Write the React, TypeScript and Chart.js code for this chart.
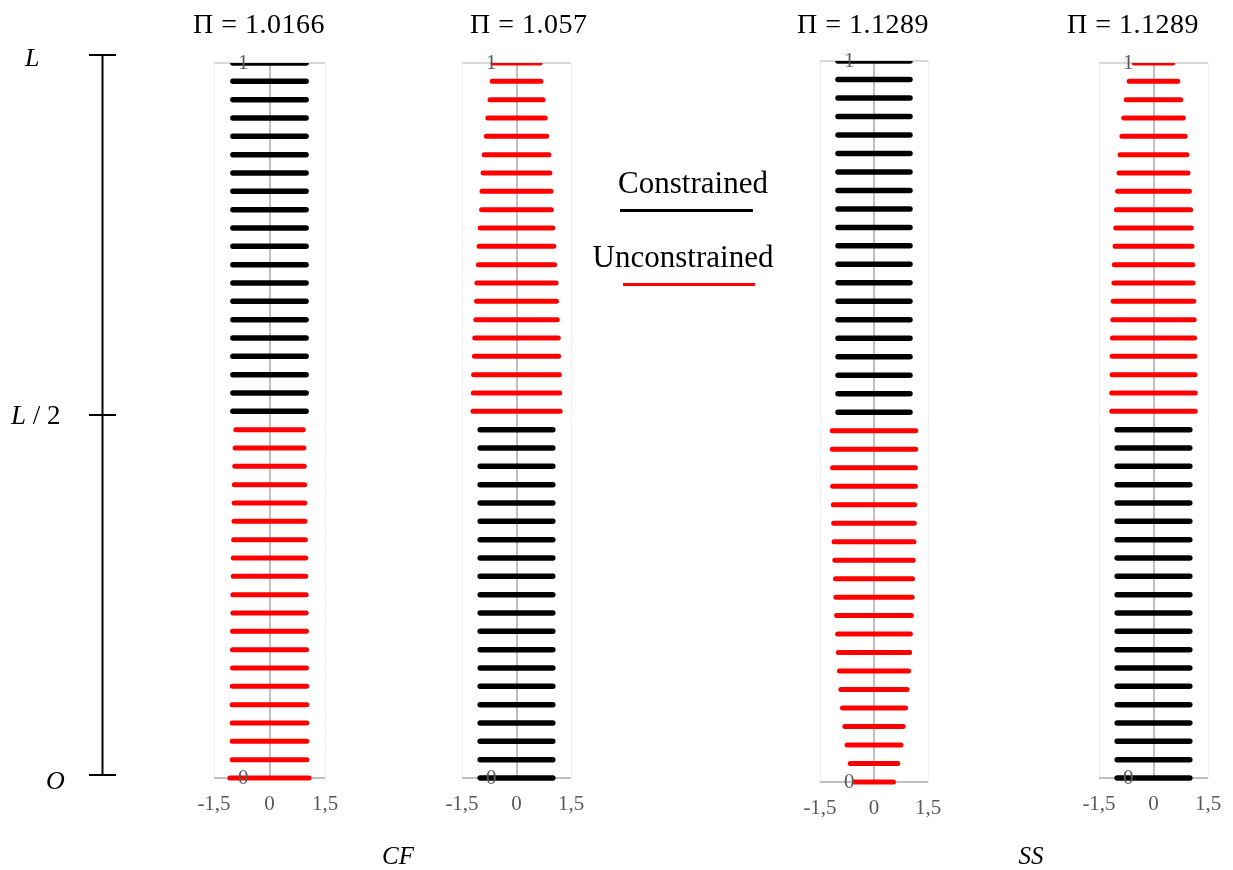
import React, { useEffect, useRef } from "react";
import { Chart, registerables } from "chart.js";

Chart.register(...registerables);

// Stations along the member, from the origin O (0) to the end L (1).
const SEGMENTS = 39;
const STATIONS = Array.from({ length: SEGMENTS + 1 }, (_, i) => i / SEGMENTS);

const X_TICKS = [-1.5, 0, 1.5];
const Y_TICKS = [0, 1];

const TITLES = ["Π = 1.0166", "Π = 1.057", "Π = 1.1289", "Π = 1.1289"];
const GROUP_LABELS = ["CF", "SS"];
const SERIES_LABELS = ["Constrained", "Unconstrained"];

// Half-widths of each band. Lower halves run from station 0 up to 19,
// upper halves from station 20 up to 39.
const cf1Constrained = [
  0.99, 0.99, 0.99, 0.99, 0.99, 0.99, 0.99, 0.99, 0.99, 0.99,
  0.99, 0.99, 0.99, 0.99, 0.99, 0.99, 0.99, 0.99, 0.99, 0.99,
];
const cf1Unconstrained = [
  1.07, 1.01, 1.01, 1.01, 1.01, 1.005, 1.0, 1.0, 1.0, 0.99,
  0.99, 0.98, 0.98, 0.97, 0.96, 0.955, 0.95, 0.94, 0.93, 0.91,
];

const cf2Constrained = [
  1.0, 1.0, 1.0, 1.0, 1.0, 1.0, 1.0, 1.0, 1.0, 1.0,
  1.0, 1.0, 1.0, 1.0, 1.0, 1.0, 1.0, 1.0, 1.0, 1.0,
];
const cf2Unconstrained = [
  1.2, 1.19, 1.18, 1.16, 1.15, 1.12, 1.1, 1.09, 1.05, 1.03,
  1.0, 0.96, 0.95, 0.92, 0.89, 0.83, 0.79, 0.73, 0.67, 0.65,
];

const ss1Constrained = [
  1.0, 1.0, 1.0, 1.0, 1.0, 1.0, 1.0, 1.0, 1.0, 1.0,
  1.0, 1.0, 1.0, 1.0, 1.0, 1.0, 1.0, 1.0, 1.0, 1.0,
];
const ss1Unconstrained = [
  0.54, 0.66, 0.75, 0.81, 0.875, 0.92, 0.96, 0.99, 1.01, 1.04,
  1.06, 1.07, 1.09, 1.11, 1.12, 1.13, 1.15, 1.15, 1.16, 1.16,
];

const ss2Constrained = [
  1.0, 1.0, 1.0, 1.0, 1.0, 1.0, 1.0, 1.0, 1.0, 1.0,
  1.0, 1.0, 1.0, 1.0, 1.0, 1.0, 1.0, 1.0, 1.0, 1.0,
];
const ss2Unconstrained = [
  1.15, 1.15, 1.14, 1.14, 1.13, 1.12, 1.11, 1.09, 1.08, 1.06,
  1.04, 1.02, 0.99, 0.95, 0.92, 0.87, 0.82, 0.75, 0.67, 0.53,
];

type Band = { values: number[]; start: number };
type PanelDef = {
  title: string;
  area: { left: number; right: number; top: number; bottom: number };
  constrained: Band;
  unconstrained: Band;
};

const PANELS: PanelDef[] = [
  {
    title: TITLES[0],
    area: { left: 214, right: 325, top: 63, bottom: 778 },
    constrained: { values: cf1Constrained, start: 20 },
    unconstrained: { values: cf1Unconstrained, start: 0 },
  },
  {
    title: TITLES[1],
    area: { left: 462, right: 571, top: 63, bottom: 778 },
    constrained: { values: cf2Constrained, start: 0 },
    unconstrained: { values: cf2Unconstrained, start: 20 },
  },
  {
    title: TITLES[2],
    area: { left: 820, right: 928, top: 61, bottom: 782 },
    constrained: { values: ss1Constrained, start: 20 },
    unconstrained: { values: ss1Unconstrained, start: 0 },
  },
  {
    title: TITLES[3],
    area: { left: 1099, right: 1208, top: 63, bottom: 778 },
    constrained: { values: ss2Constrained, start: 0 },
    unconstrained: { values: ss2Unconstrained, start: 20 },
  },
];

const TITLE_X = [193, 470, 797, 1067];

const PAD_X = 40;
const PAD_TOP = 45;
const AXIS_H = 45;

const SERIF = '"Liberation Serif", "Times New Roman", serif';

// Each band is a horizontal segment from -w to +w at its station; a null
// point between bands breaks the line.
function bandPoints(band: Band) {
  const pts: { x: number | null; y: number | null }[] = [];
  band.values.forEach((w, k) => {
    const y = STATIONS[band.start + k];
    pts.push({ x: -w, y }, { x: w, y }, { x: null, y: null });
  });
  return pts;
}

function Panel({ def }: { def: PanelDef }) {
  const ref = useRef<HTMLCanvasElement | null>(null);
  const w = def.area.right - def.area.left + PAD_X * 2;
  const h = def.area.bottom - def.area.top + PAD_TOP + AXIS_H;

  useEffect(() => {
    if (!ref.current) return;
    const clip = { left: false, top: 0, right: false, bottom: false } as any;
    const chart = new Chart(ref.current, {
      type: "scatter",
      data: {
        datasets: [
          {
            label: SERIES_LABELS[0],
            data: bandPoints(def.constrained) as any,
            showLine: true,
            spanGaps: false,
            borderColor: "#000000",
            borderWidth: 5.5,
            borderCapStyle: "round",
            pointRadius: 0,
            pointHoverRadius: 0,
            clip,
          },
          {
            label: SERIES_LABELS[1],
            data: bandPoints(def.unconstrained) as any,
            showLine: true,
            spanGaps: false,
            borderColor: "#ff0000",
            borderWidth: 5,
            borderCapStyle: "round",
            pointRadius: 0,
            pointHoverRadius: 0,
            clip,
          },
        ],
      },
      options: {
        responsive: false,
        animation: false,
        events: [],
        layout: {
          autoPadding: false,
          padding: { left: PAD_X, right: PAD_X, top: PAD_TOP, bottom: 0 },
        },
        plugins: {
          legend: { display: false },
          tooltip: { enabled: false },
          title: { display: false },
        },
        scales: {
          x: {
            type: "linear",
            min: X_TICKS[0],
            max: X_TICKS[X_TICKS.length - 1],
            afterBuildTicks: (s: any) => {
              s.ticks = X_TICKS.map((value) => ({ value }));
            },
            afterFit: (s: any) => {
              s.height = AXIS_H;
            },
            ticks: {
              autoSkip: false,
              maxRotation: 0,
              padding: 14,
              color: "#595959",
              font: { family: SERIF, size: 21 },
              callback: (v: any) => String(v).replace(".", ","),
            },
            grid: {
              drawTicks: false,
              color: (c: any) =>
                c.tick && c.tick.value === 0 ? "#bfbfbf" : "#efefef",
              lineWidth: (c: any) => (c.tick && c.tick.value === 0 ? 2 : 1),
            },
            border: { display: false },
          },
          y: {
            type: "linear",
            min: Y_TICKS[0],
            max: Y_TICKS[Y_TICKS.length - 1],
            afterBuildTicks: (s: any) => {
              s.ticks = Y_TICKS.map((value) => ({ value }));
            },
            afterFit: (s: any) => {
              s.width = 0;
            },
            ticks: {
              mirror: true,
              padding: 24,
              z: 1,
              color: "#595959",
              font: { family: SERIF, size: 21 },
              callback: (v: any) => String(v),
            },
            grid: {
              drawTicks: false,
              color: (c: any) =>
                c.tick && c.tick.value === 0 ? "#bfbfbf" : "#d9d9d9",
              lineWidth: 2,
            },
            border: { display: false },
          },
        },
      } as any,
    });
    return () => chart.destroy();
  }, [def]);

  return (
    <canvas
      ref={ref}
      width={w}
      height={h}
      style={{
        position: "absolute",
        left: def.area.left - PAD_X,
        top: def.area.top - PAD_TOP,
        width: w,
        height: h,
        display: "block",
      }}
    />
  );
}

export default function App() {
  return (
    <div
      style={{
        position: "absolute",
        left: 0,
        top: 0,
        width: 1233,
        height: 870,
        background: "#ffffff",
        overflow: "hidden",
      }}
    >
      {PANELS.map((p, i) => (
        <Panel key={i} def={p} />
      ))}
      <svg
        width={1233}
        height={870}
        style={{ position: "absolute", left: 0, top: 0, pointerEvents: "none" }}
        fontFamily={SERIF}
      >
        {PANELS.map((p, i) => (
          <text key={i} x={TITLE_X[i]} y={33} fontSize={28} letterSpacing={0.5} fill="#000">
            {p.title}
          </text>
        ))}

        {/* member axis O .. L */}
        <line x1={102.5} y1={55} x2={102.5} y2={775} stroke="#000" strokeWidth={2} />
        <line x1={89} y1={55} x2={116} y2={55} stroke="#000" strokeWidth={2} />
        <line x1={89} y1={415} x2={116} y2={415} stroke="#000" strokeWidth={2} />
        <line x1={89} y1={775} x2={116} y2={775} stroke="#000" strokeWidth={2} />
        <text x={25} y={66} fontSize={26} fontStyle="italic" fill="#000">L</text>
        <text x={11} y={424} fontSize={27} fill="#000">
          <tspan fontStyle="italic">L</tspan>
          <tspan> / 2</tspan>
        </text>
        <text x={46} y={789} fontSize={26} fontStyle="italic" fill="#000">O</text>

        {/* legend */}
        <text x={693} y={193} fontSize={31} textAnchor="middle" fill="#000">
          {SERIES_LABELS[0]}
        </text>
        <line x1={620} y1={210.5} x2={753} y2={210.5} stroke="#000" strokeWidth={3} />
        <text x={683} y={267} fontSize={31} textAnchor="middle" fill="#000">
          {SERIES_LABELS[1]}
        </text>
        <line x1={623} y1={284.5} x2={755} y2={284.5} stroke="#ff0000" strokeWidth={3} />

        {/* groups */}
        <text x={398} y={864} fontSize={25} fontStyle="italic" textAnchor="middle" fill="#000">
          {GROUP_LABELS[0]}
        </text>
        <text x={1031} y={864} fontSize={25} fontStyle="italic" textAnchor="middle" fill="#000">
          {GROUP_LABELS[1]}
        </text>
      </svg>
    </div>
  );
}
